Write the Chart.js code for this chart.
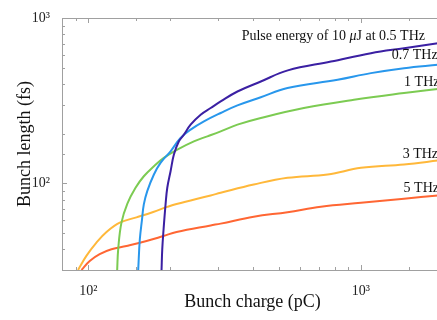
<!DOCTYPE html>
<html>
<head>
<meta charset="utf-8">
<script src="https://cdn.jsdelivr.net/npm/chart.js@4"></script>
<style>
  html, body { margin: 0; padding: 0; background: #fff; }
  #clip { width: 437px; height: 320px; overflow: hidden; position: relative; }
  canvas { display: block; }
</style>
</head>
<body>
<div id="clip"><canvas id="bunchChart" width="448" height="320"></canvas></div>
<script>
// bunch charge (pC) / bunch length (fs) per THz frequency
const q05 = [185.5, 186.6, 188.7, 191.9, 194.7, 200.2, 205.9, 214.8, 224.1, 237.1, 258.1, 280.9, 305.7, 352.2, 429, 539, 776, 1088, 1439, 1914, 2000];
const t05 = [30, 40, 52.8, 74.7, 94.2, 118.6, 149.5, 179.8, 197.3, 226.7, 260.4, 285.8, 313.2, 359.7, 413.3, 482.7, 545.5, 612.8, 656.9, 704, 713];

const q07 = [152.3, 154.4, 157.3, 159.7, 164.4, 173.9, 183.9, 200.2, 217.8, 237.1, 265.4, 305.7, 352.2, 429, 537.7, 821, 1088, 1439, 1914, 2000];
const t07 = [30, 46, 60.7, 74.7, 89.9, 113.3, 133.2, 156.5, 188.5, 211.5, 237.3, 266.7, 296.3, 332, 377.2, 423.2, 464.4, 497.7, 521.2, 525];

const q1 = [127.5, 128.6, 132.2, 139.1, 148.9, 159.7, 173.9, 189.1, 211.9, 243.8, 273.2, 305.7, 352.2, 429, 617.2, 942.5, 1439, 1914, 2000];
const t1 = [30, 40, 58, 75.8, 94.2, 110.6, 127.1, 142.8, 160.3, 179.8, 192.7, 206.6, 226.7, 248.8, 285.8, 320.7, 351.9, 372, 376];

const q3 = [91.6, 98.3, 107, 116.5, 130.3, 150.1, 172.9, 194.7, 210.6, 280.9, 305.7, 404.3, 537.7, 754.5, 1000, 1439, 1914, 2000];
const t3 = [30, 36.5, 43.9, 50.9, 58, 62.4, 67.3, 72.2, 75.2, 84.7, 87.9, 98.6, 108.2, 113.3, 124.3, 130.2, 137.6, 139];

const q5 = [94.3, 101.1, 110, 121.5, 137.9, 163.4, 188.2, 210.6, 280.9, 305.7, 404.3, 537.7, 712.9, 1000, 1439, 1914, 2000];
const t5 = [30, 34, 37.4, 40, 41.9, 44.9, 48.1, 50.9, 55.8, 57.2, 63, 67.1, 72.4, 76.5, 80.9, 84.7, 85.5];

const seriesColors = ['#3b20a3', '#2897ec', '#7ccb52', '#ffb83a', '#ff6633'];

// curve labels, anchored in data coordinates (charge, length)
const labelText = ['0.7 THz', '1 THz', '3 THz', '5 THz'];
const labelQ = [1297, 1440, 1423, 1434];
const labelT = [566, 389, 143.4, 88.6];
const titleQ = 365, titleT = 736;

const xTicksMajor = [100, 1000];
const yTicksMajor = [100, 1000];
const supLabel = { 100: '10\u00B2', 1000: '10\u00B3' };

const serif = '"Liberation Serif", "DejaVu Serif", serif';

function pts(q, t) {
    return q.map((v, i) => ({ x: v, y: t[i] }));
}

const curves = [[q05, t05], [q07, t07], [q1, t1], [q3, t3], [q5, t5]];

// frame and inward ticks, matlab style
const framePlugin = {
    id: 'frame',
    afterDatasetsDraw(chart) {
        const { ctx, chartArea: a, scales } = chart;
        ctx.save();
        ctx.strokeStyle = '#a0a0a0';
        ctx.lineWidth = 1;
        ctx.strokeRect(a.left + 0.5, a.top + 0.5, a.right - a.left, a.bottom - a.top);
        ctx.beginPath();
        scales.x.ticks.forEach(t => {
            const px = Math.round(scales.x.getPixelForValue(t.value)) + 0.5;
            const len = xTicksMajor.includes(t.value) ? 5 : 3;
            ctx.moveTo(px, a.bottom); ctx.lineTo(px, a.bottom - len);
            ctx.moveTo(px, a.top); ctx.lineTo(px, a.top + len);
        });
        scales.y.ticks.forEach(t => {
            const py = Math.round(scales.y.getPixelForValue(t.value)) + 0.5;
            const len = yTicksMajor.includes(t.value) ? 5 : 3;
            ctx.moveTo(a.left, py); ctx.lineTo(a.left + len, py);
        });
        ctx.stroke();

        // curve labels
        ctx.fillStyle = '#111';
        ctx.font = '14px ' + serif;
        ctx.textBaseline = 'alphabetic';
        labelText.forEach((s, i) => {
            ctx.fillText(s, scales.x.getPixelForValue(labelQ[i]), scales.y.getPixelForValue(labelT[i]));
        });
        let x = scales.x.getPixelForValue(titleQ);
        const y = scales.y.getPixelForValue(titleT);
        const parts = [['Pulse energy of 10 ', false], ['\u03BC', true], ['J at 0.5 THz', false]];
        parts.forEach(([s, it]) => {
            ctx.font = (it ? 'italic ' : '') + '14px ' + serif;
            ctx.fillText(s, x, y);
            x += ctx.measureText(s).width;
        });
        ctx.restore();
    }
};

new Chart(document.getElementById('bunchChart'), {
    type: 'line',
    data: {
        datasets: curves.map((c, i) => ({
            data: pts(c[0], c[1]),
            borderColor: seriesColors[i],
            borderWidth: 2,
            pointRadius: 0,
            fill: false,
            tension: 0.4,
            clip: 0
        }))
    },
    options: {
        responsive: false,
        animation: false,
        layout: { padding: { left: 0, top: 18, right: 4, bottom: 0 } },
        plugins: { legend: { display: false }, tooltip: { enabled: false } },
        scales: {
            x: {
                type: 'logarithmic',
                min: 80,
                max: 2000,
                grid: { display: false },
                border: { display: false },
                ticks: {
                    autoSkip: false,
                    maxRotation: 0,
                    padding: 5,
                    color: '#222',
                    font: { family: serif, size: 14 },
                    callback: v => supLabel[v] || ''
                },
                title: {
                    display: true,
                    text: 'Bunch charge (pC)',
                    color: '#111',
                    font: { family: serif, size: 18 },
                    padding: { top: 0, bottom: 7 }
                },
                afterFit: s => { s.height = 50; }
            },
            y: {
                type: 'logarithmic',
                min: 30,
                max: 1000,
                grid: { display: false },
                border: { display: false },
                ticks: {
                    autoSkip: false,
                    padding: 4,
                    color: '#222',
                    font: { family: serif, size: 14 },
                    callback: v => supLabel[v] || ''
                },
                title: {
                    display: true,
                    text: 'Bunch length (fs)',
                    color: '#111',
                    font: { family: serif, size: 18 },
                    padding: { top: 14, bottom: 0 }
                },
                afterFit: s => { s.width = 62; }
            }
        }
    },
    plugins: [framePlugin]
});
</script>
</body>
</html>
